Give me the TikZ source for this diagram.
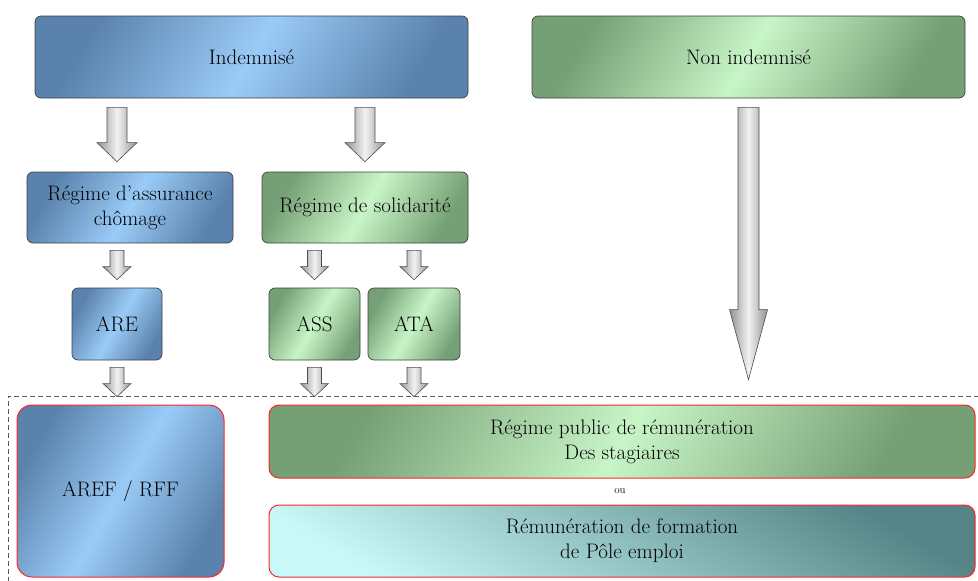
\documentclass[tikz,border=0pt]{standalone}
\usepackage{fontspec}
\usetikzlibrary{calc}

\definecolor{bluelight}{HTML}{9ACBF7}
\definecolor{bluedark}{HTML}{5A82AC}
\definecolor{greenlight}{HTML}{C8F5C8}
\definecolor{greendark}{HTML}{75A075}
\definecolor{cyanlight}{HTML}{C8F8F8}
\definecolor{cyandark}{HTML}{568486}

\begin{document}
\begin{tikzpicture}[x=1pt,y=-1pt,
  box/.style={draw=black!75,line width=0.7pt,rounded corners=6pt,align=center,inner sep=0pt,font=\fontsize{21}{25}\selectfont},
  bluebox/.style={box,left color=bluedark,right color=bluedark,middle color=bluelight,shading angle=60},
  greenbox/.style={box,left color=greendark,right color=greendark,middle color=greenlight,shading angle=60},
  cyanbox/.style={box,left color=cyandark,right color=cyanlight,shading angle=330},
  redline/.style={draw=red!85,line width=1pt,rounded corners=10pt},
  frame/.style={draw=black!65,line width=0.8pt,dash pattern=on 5pt off 3pt},
  fatarrow/.style={draw=black!70,line width=0.6pt,left color=gray!85,right color=gray!85,middle color=gray!10}]
\newcommand{\fatarrow}[7]{\path[fatarrow] let \p1=(#1), \p2=(#2) in
  (\x2-#5pt,\y1-#3pt) -- (\x2+#5pt,\y1-#3pt) -- (\x2+#5pt,\y2+#4pt+#7pt) -- (\x2+#6pt,\y2+#4pt+#7pt)
  -- (\x2,\y2+#4pt) -- (\x2-#6pt,\y2+#4pt+#7pt) -- (\x2-#5pt,\y2+#4pt+#7pt) -- cycle;}
\useasboundingbox (0,0) rectangle (978,581);

\node[frame,minimum width=982pt,minimum height=199pt] (frame) at (499,495.5) {};

\node[bluebox,minimum width=433pt,minimum height=82pt] (indem) at (251.5,57) {Indemnisé};
\node[greenbox,minimum width=433pt,minimum height=82pt] (nonindem) at (748.5,57) {Non indemnisé};

\node[bluebox,minimum width=206pt,minimum height=71pt] (assur) at (130,207.5) {Régime d’assurance\\chômage};
\node[greenbox,minimum width=206pt,minimum height=71pt] (solid) at (365,207.5) {Régime de solidarité};

\node[bluebox,minimum width=90pt,minimum height=72pt] (are) at (117,324) {ARE};
\node[greenbox,minimum width=91pt,minimum height=72pt] (ass) at (314.5,324) {ASS};
\node[greenbox,minimum width=92pt,minimum height=72pt] (ata) at (414,324) {ATA};

\node[bluebox,redline,rounded corners=15pt,minimum width=207pt,minimum height=172pt] (aref) at (120.5,491) {AREF / RFF};
\node[greenbox,redline,minimum width=706pt,minimum height=73pt] (rpub) at (622,441.5) {Régime public de rémunération\\Des stagiaires};
\node[font=\fontsize{11}{13}\selectfont] (ou) at (620,491) {ou};
\node[cyanbox,redline,minimum width=706pt,minimum height=72pt] (remu) at (622,541) {Rémunération de formation\\de Pôle emploi};

% arrows
\fatarrow{indem.south -| are}{assur.north -| are}{9}{10}{10}{20}{19}
\fatarrow{indem.south -| solid}{solid.north}{9}{10}{10}{20}{19}
\fatarrow{nonindem.south}{nonindem.south |- frame.north}{9}{16}{10.5}{19}{70}
\fatarrow{assur.south -| are}{are.north}{7}{8}{7}{14}{13}
\fatarrow{solid.south -| ass}{ass.north}{7}{8}{7}{14}{13}
\fatarrow{solid.south -| ata}{ata.north}{7}{8}{7}{14}{13}
\fatarrow{are.south}{are.south |- frame.north}{7}{-1}{7}{14}{13}
\fatarrow{ass.south}{ass.south |- frame.north}{7}{-1}{7}{14}{13}
\fatarrow{ata.south}{ata.south |- frame.north}{7}{-1}{7}{14}{13}
\end{tikzpicture}
\end{document}
